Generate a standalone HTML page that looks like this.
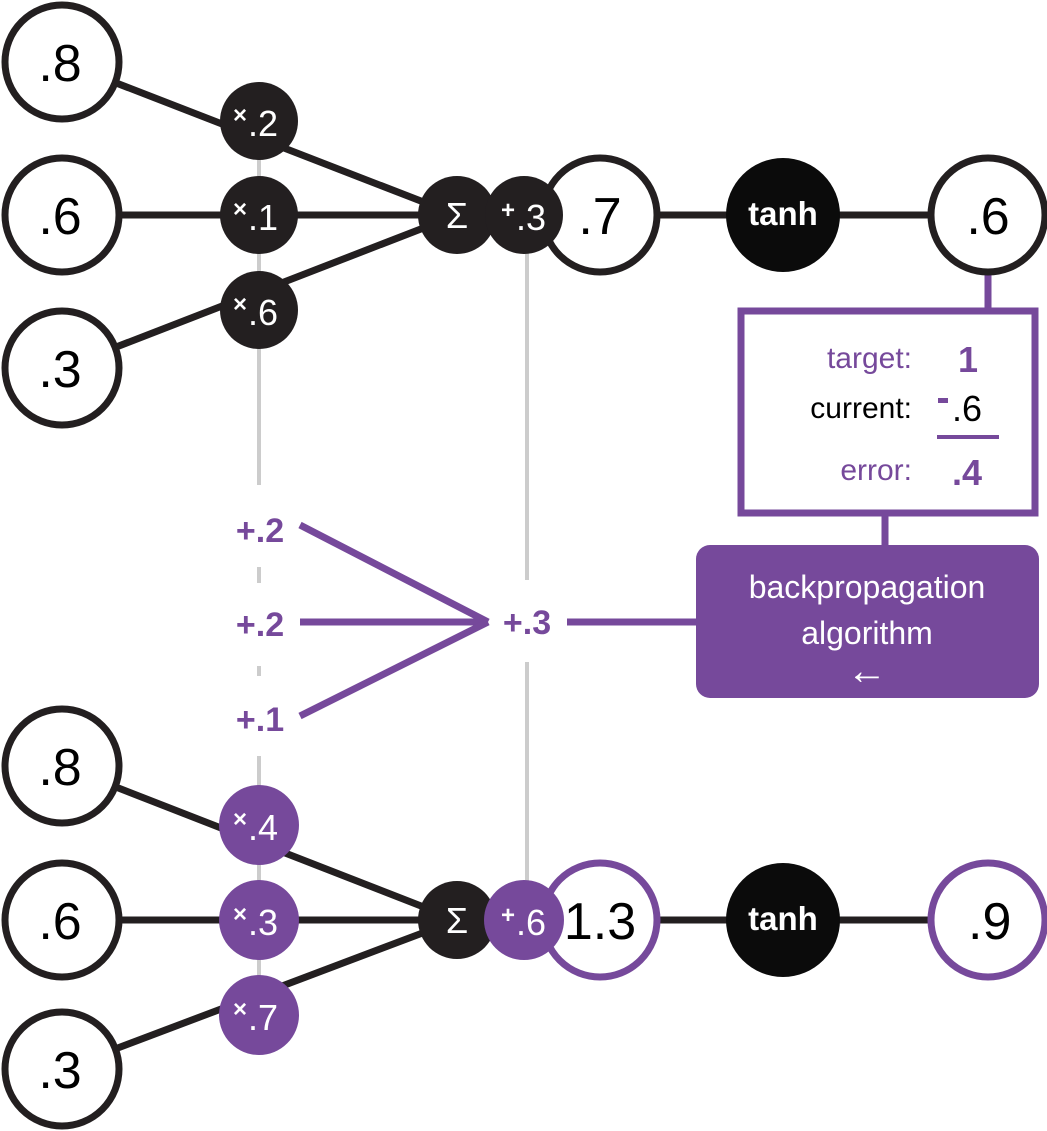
<!DOCTYPE html>
<html><head><style>
html,body{margin:0;padding:0;background:#fff}
svg{display:block}
text{font-family:"Liberation Sans",sans-serif}
</style></head><body>
<svg width="1047" height="1131" viewBox="0 0 1047 1131" xmlns="http://www.w3.org/2000/svg">
<line x1="259" y1="121" x2="259" y2="485" stroke="#ccc" stroke-width="4"/>
<line x1="259" y1="567" x2="259" y2="583" stroke="#ccc" stroke-width="4"/>
<line x1="259" y1="666" x2="259" y2="676" stroke="#ccc" stroke-width="4"/>
<line x1="259" y1="756" x2="259" y2="1018" stroke="#ccc" stroke-width="4"/>
<line x1="527" y1="215" x2="527" y2="580" stroke="#ccc" stroke-width="4"/>
<line x1="527" y1="662" x2="527" y2="915" stroke="#ccc" stroke-width="4"/>

<g stroke="#231f20" stroke-width="7">
<line x1="62" y1="62" x2="457" y2="215"/>
<line x1="62" y1="215" x2="457" y2="215"/>
<line x1="62" y1="368" x2="457" y2="215"/>
<line x1="600" y1="215" x2="988" y2="215"/>
<line x1="62" y1="766" x2="457" y2="920"/>
<line x1="62" y1="920" x2="457" y2="920"/>
<line x1="62" y1="1069" x2="457" y2="920"/>
<line x1="600" y1="920" x2="988" y2="920"/>
</g>

<g stroke="#76499b" stroke-width="7">
<line x1="300" y1="525" x2="488" y2="622"/>
<line x1="300" y1="622" x2="488" y2="622"/>
<line x1="300" y1="716" x2="488" y2="622"/>
<line x1="567" y1="622" x2="700" y2="622"/>
<line x1="988" y1="272" x2="988" y2="310"/>
<line x1="885" y1="512" x2="885" y2="548"/>
</g>

<g fill="#fff" stroke="#231f20" stroke-width="7">
<circle cx="62" cy="62" r="57"/>
<circle cx="62" cy="215" r="57"/>
<circle cx="62" cy="368" r="57"/>
<circle cx="62" cy="766" r="57"/>
<circle cx="62" cy="920" r="57"/>
<circle cx="62" cy="1069" r="57"/>
<circle cx="600" cy="215" r="57"/>
<circle cx="988" cy="215" r="57"/>
</g>
<g fill="#fff" stroke="#76499b" stroke-width="7">
<circle cx="600" cy="920" r="57"/>
<circle cx="988" cy="920" r="57"/>
</g>
<circle cx="783" cy="215" r="57" fill="#0b0b0b"/>
<circle cx="783" cy="920" r="57" fill="#0b0b0b"/>

<g fill="#231f20">
<circle cx="259" cy="121" r="39"/>
<circle cx="259" cy="215" r="39"/>
<circle cx="259" cy="310" r="39"/>
<circle cx="457" cy="215" r="39"/>
<circle cx="524" cy="215" r="39"/>
<circle cx="457" cy="920" r="39"/>
</g>
<g fill="#76499b">
<circle cx="259" cy="825" r="40"/>
<circle cx="259" cy="920" r="40"/>
<circle cx="259" cy="1015" r="40"/>
<circle cx="524" cy="920" r="40"/>
</g>

<g font-size="52" text-anchor="middle" fill="#000">
<text x="60" y="81">.8</text>
<text x="60" y="234">.6</text>
<text x="60" y="387">.3</text>
<text x="60" y="785">.8</text>
<text x="60" y="939">.6</text>
<text x="60" y="1088">.3</text>
<text x="600" y="234">.7</text>
<text x="988" y="234">.6</text>
<text x="600" y="939">1.3</text>
<text x="968" y="939" text-anchor="start">.9</text>
</g>
<g font-size="33" font-weight="bold" fill="#fff" text-anchor="middle">
<text x="783" y="225">tanh</text>
<text x="783" y="930">tanh</text>
</g>
<g font-size="36" fill="#fff" text-anchor="middle">
<text x="263" y="136">.2</text>
<text x="263" y="230">.1</text>
<text x="263" y="325">.6</text>
<text x="263" y="840">.4</text>
<text x="263" y="935">.3</text>
<text x="263" y="1030">.7</text>
<text x="531" y="230">.3</text>
<text x="531" y="935">.6</text>
<text x="457" y="228">Σ</text>
<text x="457" y="933">Σ</text>
</g>
<g font-size="24" font-weight="bold" fill="#fff" text-anchor="middle">
<text x="240" y="123">×</text>
<text x="240" y="217">×</text>
<text x="240" y="312">×</text>
<text x="240" y="827">×</text>
<text x="240" y="922">×</text>
<text x="240" y="1017">×</text>
<text x="508" y="218">+</text>
<text x="508" y="923">+</text>
</g>

<g font-size="34" font-weight="bold" fill="#76499b" text-anchor="middle">
<text x="260" y="542">+.2</text>
<text x="260" y="636">+.2</text>
<text x="260" y="731">+.1</text>
<text x="527" y="634">+.3</text>
</g>

<rect x="741" y="311" width="294" height="202" fill="#fff" stroke="#76499b" stroke-width="7"/>
<g font-size="30" text-anchor="end">
<text x="912" y="368" fill="#76499b">target:</text>
<text x="912" y="418" fill="#000">current:</text>
<text x="912" y="480" fill="#76499b">error:</text>
</g>
<text x="968" y="372" font-size="36" font-weight="bold" fill="#76499b" text-anchor="middle">1</text>
<rect x="938" y="398" width="10" height="5" fill="#76499b"/>
<text x="967" y="421" font-size="36" fill="#000" text-anchor="middle">.6</text>
<rect x="937" y="435" width="62" height="4" fill="#76499b"/>
<text x="967" y="485" font-size="36" font-weight="bold" fill="#76499b" text-anchor="middle">.4</text>

<rect x="696" y="545" width="343" height="153" rx="14" fill="#76499b"/>
<g font-size="32" fill="#fff" text-anchor="middle">
<text x="867" y="598">backpropagation</text>
<text x="867" y="644">algorithm</text>
<text x="867" y="684" font-size="40">←</text>
</g>
</svg>
</body></html>
